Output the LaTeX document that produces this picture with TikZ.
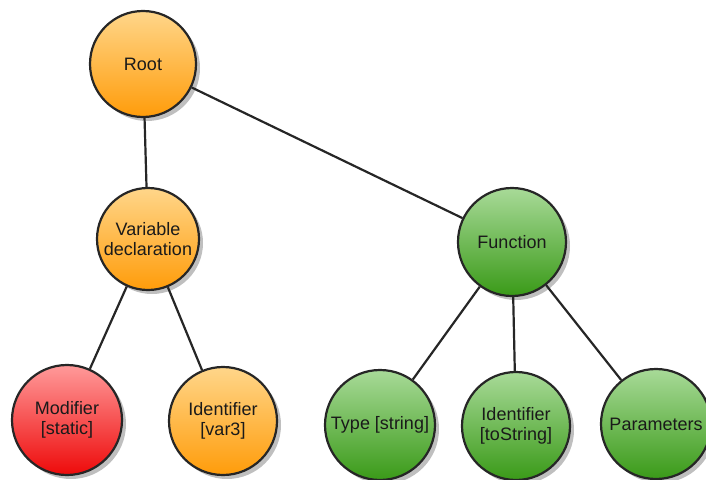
\documentclass[tikz,border=0pt]{standalone}
\usepackage{fontspec}
\setmainfont{Liberation Sans}
\usetikzlibrary{shadows}
\definecolor{orTop}{HTML}{FFD68A}
\definecolor{orBot}{HTML}{FF9C0A}
\definecolor{grTop}{HTML}{A8DA98}
\definecolor{grBot}{HTML}{3A9A18}
\definecolor{rdTop}{HTML}{FF9A9A}
\definecolor{rdBot}{HTML}{EE0A0A}
\definecolor{txt}{HTML}{1A1A1A}
\tikzset{
  tnode/.style={circle, draw=black!85, line width=2.2pt, inner sep=0pt,
    minimum size=#1, align=center, text=txt,
    font=\fontsize{18}{20}\selectfont,
    drop shadow={shadow xshift=4pt, shadow yshift=-4pt, fill=black, opacity=0.25}},
  orange/.style={top color=orTop, bottom color=orBot},
  green/.style={top color=grTop, bottom color=grBot},
  red/.style={top color=rdTop, bottom color=rdBot},
  edge/.style={line width=2.2pt, draw=black!85}
}
\begin{document}
\begin{tikzpicture}[x=1pt,y=-1pt]
\useasboundingbox (0,0) rectangle (706,479);
\node[tnode=106pt, orange] (root) at (143,64) {Root};
\node[tnode=102pt, orange] (var) at (148,239) {Variable\\declaration};
\node[tnode=108pt, green] (fun) at (512,242) {Function};
\node[tnode=110pt, red] (mod) at (67,420) {Modifier\\{[}static{]}};
\node[tnode=108pt, orange] (id1) at (223,421) {Identifier\\{[}var3{]}};
\node[tnode=110pt, green] (type) at (380,425) {Type [string]};
\node[tnode=108pt, green] (id2) at (516,426) {Identifier\\{[}toString{]}};
\node[tnode=110pt, green] (par) at (656,424) {Parameters};
\draw[edge] (root) -- (var);
\draw[edge] (root) -- (fun);
\draw[edge] (var) -- (mod);
\draw[edge] (var) -- (id1);
\draw[edge] (fun) -- (type);
\draw[edge] (fun) -- (id2);
\draw[edge] (fun) -- (par);
\end{tikzpicture}
\end{document}
